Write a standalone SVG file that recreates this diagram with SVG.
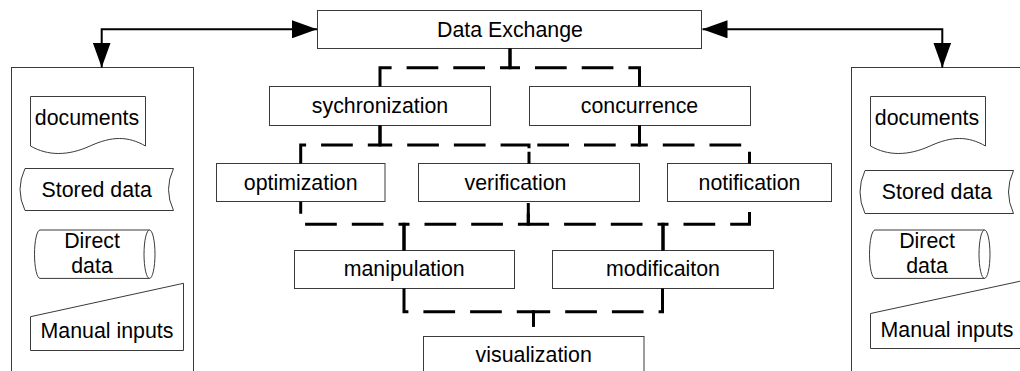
<svg xmlns="http://www.w3.org/2000/svg" width="1020" height="371" viewBox="0 0 1020 371">
  <style>
    .box { fill: #fff; stroke: #3a3a3a; stroke-width: 1; }
    .edge { fill: none; stroke: #3a3a3a; stroke-width: 1; }
    .label { font-family: "Liberation Sans", Arial, sans-serif; font-size: 21.33px; fill: #000; text-anchor: middle; }
    .flow { fill: none; stroke: #000; stroke-width: 2; }
    .bus { fill: none; stroke: #000; stroke-width: 3; stroke-dasharray: 31.7 15; }
  </style>
  <defs>
    <marker id="arrow" markerUnits="userSpaceOnUse" markerWidth="25" markerHeight="18" viewBox="0 0 25 18" refX="25" refY="9" orient="auto-start-reverse">
      <path d="M0,0 L25,9 L0,18 Z" fill="#000"/>
    </marker>
  </defs>

  <rect width="1020" height="371" fill="#fff"/>

  <!-- left input panel -->
  <g id="inputs-left">
    <rect class="box" x="11.5" y="67.5" width="182" height="320"/>
    <g id="documents-left">
      <path class="box" d="M30.5,96.5 H145.5 V146 C128,136 112,136 90,146 C68,156 48,156 30.5,146 Z"/>
      <text class="label" x="87" y="124.7">documents</text>
    </g>
    <g id="stored-left">
      <path class="box" d="M25,168.5 H173.5 Q163.5,189.5 173.5,210.5 H25 Q15,189.5 25,168.5 Z"/>
      <text class="label" x="96.7" y="196.5">Stored data</text>
    </g>
    <g id="direct-left">
      <path class="box" d="M40,230 H149.5 A5.5,24.2 0 0 1 149.5,278.4 H40 A5.5,24.2 0 0 1 40,230 Z"/>
      <path class="edge" d="M149.5,230 A5.5,24.2 0 0 0 149.5,278.4"/>
      <text class="label" x="92" y="248.3">Direct</text>
      <text class="label" x="92" y="273.3">data</text>
    </g>
    <g id="manual-left">
      <path class="box" d="M30.5,350.5 V316.7 L183.5,283.3 V350.5 Z"/>
      <text class="label" x="107" y="338.3">Manual inputs</text>
    </g>
  </g>

  <!-- right input panel -->
  <g id="inputs-right">
    <rect class="box" x="851.5" y="67.5" width="200" height="320"/>
    <g id="documents-right">
      <path class="box" d="M870.5,96.5 H985.5 V146 C968,136 952,136 930,146 C908,156 888,156 870.5,146 Z"/>
      <text class="label" x="927" y="124.7">documents</text>
    </g>
    <g id="stored-right">
      <path class="box" d="M865,170.5 H1013.5 Q1003.5,192 1013.5,213.5 H865 Q855,192 865,170.5 Z"/>
      <text class="label" x="937" y="198.5">Stored data</text>
    </g>
    <g id="direct-right">
      <path class="box" d="M875,230 H984.5 A5.5,24.2 0 0 1 984.5,278.4 H875 A5.5,24.2 0 0 1 875,230 Z"/>
      <path class="edge" d="M984.5,230 A5.5,24.2 0 0 0 984.5,278.4"/>
      <text class="label" x="927" y="248.3">Direct</text>
      <text class="label" x="927" y="273.3">data</text>
    </g>
    <g id="manual-right">
      <path class="box" d="M870.5,348.5 V313.5 L1023.5,280.5 V348.5 Z"/>
      <text class="label" x="947" y="336.5">Manual inputs</text>
    </g>
  </g>

  <!-- process nodes -->
  <g id="data-exchange">
    <rect class="box" x="317.5" y="10.5" width="384" height="38"/>
    <text class="label" x="510" y="36.5">Data Exchange</text>
  </g>
  <g id="sychronization">
    <rect class="box" x="269.5" y="86.5" width="221" height="39"/>
    <text class="label" x="380" y="113">sychronization</text>
  </g>
  <g id="concurrence">
    <rect class="box" x="529.5" y="86.5" width="221" height="39"/>
    <text class="label" x="639.5" y="113">concurrence</text>
  </g>
  <g id="optimization">
    <rect class="box" x="216.5" y="163.5" width="168.5" height="38"/>
    <text class="label" x="300.7" y="189.5">optimization</text>
  </g>
  <g id="verification">
    <rect class="box" x="418.5" y="163.5" width="221" height="38"/>
    <text class="label" x="515.5" y="189.5">verification</text>
  </g>
  <g id="notification">
    <rect class="box" x="667.5" y="163.5" width="164" height="38"/>
    <text class="label" x="749.5" y="189.5">notification</text>
  </g>
  <g id="manipulation">
    <rect class="box" x="294.5" y="250.5" width="220" height="38"/>
    <text class="label" x="404.2" y="275.5">manipulation</text>
  </g>
  <g id="modificaiton">
    <rect class="box" x="552.5" y="250.5" width="221" height="38"/>
    <text class="label" x="663" y="275.5">modificaiton</text>
  </g>
  <g id="visualization">
    <rect class="box" x="423.5" y="336.5" width="220.5" height="38"/>
    <text class="label" x="533.7" y="362">visualization</text>
  </g>

  <!-- connectors -->
  <g id="connectors">
    <!-- two-way exchange with the input panels -->
    <path class="flow" d="M101.7,67.5 V29.3 H317" marker-start="url(#arrow)" marker-end="url(#arrow)"/>
    <path class="flow" d="M702.5,29.3 H942.3 V67.5" marker-start="url(#arrow)" marker-end="url(#arrow)"/>

    <!-- Data Exchange to first tier -->
    <path class="bus" stroke-dashoffset="2.5" d="M510,48.5 V67.7 H380 V86.5"/>
    <path class="bus" stroke-dashoffset="2.5" d="M510,48.5 V67.7 H639.5 V86.5"/>

    <!-- first tier to second tier -->
    <path class="bus" d="M380,125.5 V145 H300.7 V163.5"/>
    <path class="bus" d="M380,125.5 V145 H529 V163.5"/>
    <path class="bus" stroke-dashoffset="19.9" d="M529,163.5 V145 H639.5 V125.5"/>
    <path class="bus" stroke-dashoffset="19.9" d="M749.5,163.5 V145 H639.5 V125.5"/>

    <!-- second tier to third tier -->
    <path class="bus" d="M404,250.5 V224.3 H300.7 V201.7"/>
    <path class="bus" d="M404,250.5 V224.3 H528.3 V201.7"/>
    <path class="bus" d="M663,250.5 V224.3 H528.3 V201.7"/>
    <path class="bus" d="M663,250.5 V224.3 H749.5 V201.7"/>

    <!-- third tier to visualization -->
    <path class="bus" stroke-dashoffset="36.9" d="M533.5,336.5 V311.7 H404 V288.5"/>
    <path class="bus" stroke-dashoffset="36.9" d="M533.5,336.5 V311.7 H662.5 V288.5"/>
  </g>
</svg>
